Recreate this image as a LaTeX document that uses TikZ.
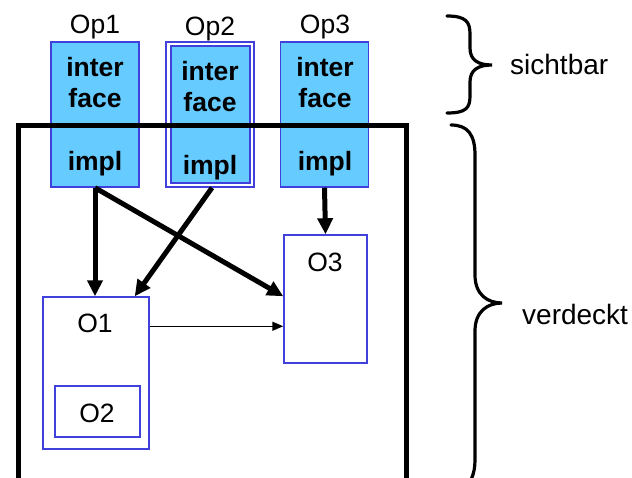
\documentclass[tikz,border=0pt]{standalone}
\usepackage{fontspec}
\setmainfont{Liberation Sans}
\usetikzlibrary{arrows.meta,calc}
\definecolor{opfill}{RGB}{102,204,255}
\definecolor{opline}{RGB}{64,64,220}
\begin{document}
\begin{tikzpicture}[x=1pt,y=-1pt,
  opbox/.style={draw=opline,fill=opfill,line width=1.5pt,minimum width=88pt,minimum height=145pt,inner sep=0pt},
  obox/.style={draw=opline,fill=white,line width=1.5pt,inner sep=0pt},
  optxt/.style={font=\fontsize{26.5}{30}\selectfont\bfseries,anchor=base,inner sep=0pt},
  lbl/.style={font=\fontsize{26.5}{30}\selectfont,anchor=base,inner sep=0pt},
  side/.style={font=\fontsize{28}{32}\selectfont,anchor=base west,inner sep=0pt},
  big/.style={line width=5pt,-{Triangle[length=16pt,width=15pt]}},
  thin/.style={line width=1.5pt,-{Triangle[length=11pt,width=9pt]}},
  brace/.style={line width=3.2pt,line cap=round}]
\useasboundingbox (0,0) rectangle (632,477);
% Op boxes
\node[opbox] (op1) at (95,114.5) {};
\node[draw=opline,fill=white,line width=1.5pt,minimum width=88pt,minimum height=145pt,inner sep=0pt] (op2) at (210,114.5) {};
\node[opbox,minimum width=79pt,minimum height=137pt] (op2i) at (210.5,114.5) {};
\node[opbox] (op3) at (324.5,114.5) {};
% labels
\node[lbl] (l1) at (95,33) {Op1};
\node[lbl] (l2) at (210,35) {Op2};
\node[lbl] (l3) at (325,33) {Op3};
\node[optxt] (i1) at (95,76) {inter};
\node[optxt] (f1) at (95,107) {face};
\node[optxt] (m1) at (95,170) {impl};
\node[optxt] (i2) at (210,80) {inter};
\node[optxt] (f2) at (210,111) {face};
\node[optxt] (m2) at (210,174) {impl};
\node[optxt] (i3) at (325,76) {inter};
\node[optxt] (f3) at (325,107) {face};
\node[optxt] (m3) at (325,170) {impl};
% big frame
\draw[line width=5pt] (18.5,480) -- (18.5,125.5) -- (406,125.5) -- (406,480);
% objects
\node[obox,minimum width=106pt,minimum height=152pt] (o1) at (96,373) {};
\node[obox,minimum width=85pt,minimum height=51pt] (o2) at (97.5,411.5) {};
\node[obox,minimum width=83pt,minimum height=128pt] (o3) at (325.5,299) {};
\node[lbl] (to1) at (95,332) {O1};
\node[lbl] (to2) at (97,422) {O2};
\node[lbl] (to3) at (325,271) {O3};
% arrows
\draw[big] (op1.south) -- (o1.north -| op1.south);
\draw[big] (op1.south) -- ($(o3.north west)+(0,62)$);
\draw[big] ($(op2.south)+(2,0)$) -- ($(o1.north east)+(-15,0)$);
\draw[big] (op3.south) -- (o3.north);
\draw[thin] ($(o1.north east)+(0,30)$) -- ($(o3.north west)+(0,92)$);
% braces
\draw[brace] (447,16) .. controls (466,16) and (470,22) .. (470,34) -- (470,48) .. controls (470,60) and (478,65) .. (492,65)
  .. controls (478,65) and (470,70) .. (470,82) -- (470,96) .. controls (470,108) and (466,113) .. (447,113);
\node[side] (sb) at (510,74) {sichtbar};
\draw[brace] (451,125) .. controls (468,125) and (475,135) .. (475,155) -- (475,275) .. controls (475,295) and (488,303) .. (502,303)
  .. controls (488,303) and (475,311) .. (475,331) -- (475,460) .. controls (475,475) and (470,485) .. (460,493);
\node[side] (vd) at (522,324) {verdeckt};
\end{tikzpicture}
\end{document}
